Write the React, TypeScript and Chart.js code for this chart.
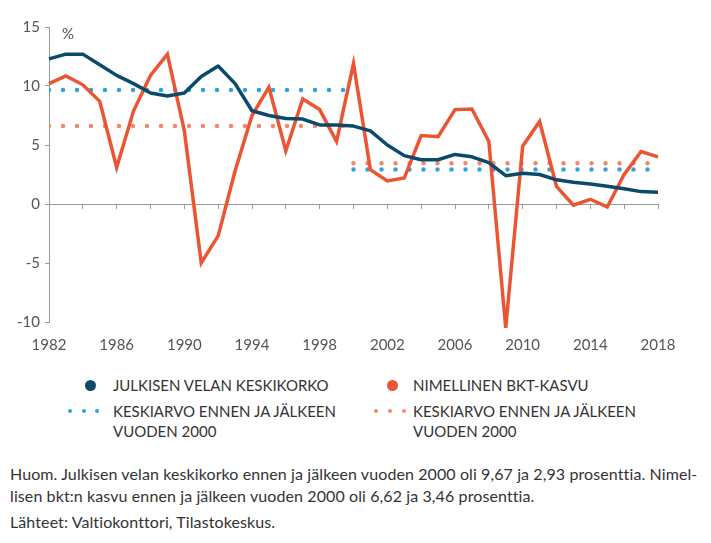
import React, { useEffect, useRef } from "react";
import { Chart, registerables } from "chart.js";

Chart.register(...registerables);

const years = [
  1982, 1983, 1984, 1985, 1986, 1987, 1988, 1989, 1990, 1991, 1992, 1993,
  1994, 1995, 1996, 1997, 1998, 1999, 2000, 2001, 2002, 2003, 2004, 2005,
  2006, 2007, 2008, 2009, 2010, 2011, 2012, 2013, 2014, 2015, 2016, 2017, 2018,
];

const keskikorko = [
  12.3, 12.7, 12.7, 11.8, 10.9, 10.2, 9.4, 9.15, 9.4, 10.8, 11.7, 10.2,
  7.9, 7.5, 7.25, 7.2, 6.7, 6.7, 6.6, 6.2, 5.0, 4.1, 3.75, 3.75,
  4.2, 4.0, 3.5, 2.4, 2.6, 2.5, 2.05, 1.85, 1.7, 1.5, 1.3, 1.05, 1.0,
];

const bktKasvu = [
  10.2, 10.85, 10.1, 8.7, 3.1, 7.9, 10.9, 12.7, 6.2, -5.0, -2.7, 2.8,
  7.5, 9.9, 4.5, 8.9, 8.0, 5.3, 11.9, 2.9, 1.95, 2.2, 5.8, 5.7,
  8.0, 8.05, 5.3, -10.5, 4.9, 7.0, 1.5, -0.1, 0.4, -0.25, 2.5, 4.45, 4.0,
];

// averages before / after year 2000
const periodBefore = [1982, 2000];
const periodAfter = [2000, 2018];
const korkoAverages = [9.67, 2.93];
const bktAverages = [6.62, 3.46];

const yTicks = [-10, -5, 0, 5, 10, 15];
const xLabelStep = 4;
const xTickStep = 2;

const legendLabels = [
  "JULKISEN VELAN KESKIKORKO",
  "NIMELLINEN BKT-KASVU",
  "KESKIARVO ENNEN JA JÄLKEEN",
  "VUODEN 2000",
];

const noteLines = [
  "Huom. Julkisen velan keskikorko ennen ja jälkeen vuoden 2000 oli 9,67 ja 2,93 prosenttia. Nimel-",
  "lisen bkt:n kasvu ennen ja jälkeen vuoden 2000 oli 6,62 ja 3,46 prosenttia.",
  "Lähteet: Valtiokonttori, Tilastokeskus.",
];

const DARK_BLUE = "#0c4a6c";
const ORANGE = "#ec5533";
const LIGHT_BLUE = "#2ea3dd";
const LIGHT_ORANGE = "#f2896a";
const AXIS = "#9a9a9a";
const TEXT = "#555555";

const FONT = "Lato";

function seg(period: number[], value: number) {
  return period.map((x) => ({ x, y: value }));
}

export default function App() {
  const ref = useRef<HTMLCanvasElement | null>(null);

  useEffect(() => {
    if (!ref.current) return;
    const dotted = (color: string) => ({
      borderColor: color,
      borderWidth: 4.5,
      borderDash: [0, 14],
      borderCapStyle: "round" as const,
      pointRadius: 0,
      fill: false,
    });
    const chart = new Chart(ref.current, {
      type: "line",
      data: {
        datasets: [
          {
            label: legendLabels[0],
            data: years.map((x, i) => ({ x, y: keskikorko[i] })),
            borderColor: DARK_BLUE,
            borderWidth: 3.5,
            pointRadius: 0,
            tension: 0,
            borderJoinStyle: "round",
            clip: 10,
          },
          {
            label: legendLabels[1],
            data: years.map((x, i) => ({ x, y: bktKasvu[i] })),
            borderColor: ORANGE,
            borderWidth: 3.5,
            pointRadius: 0,
            tension: 0,
            borderJoinStyle: "miter",
            clip: 10,
          },
          { label: "korko<2000", data: seg(periodBefore, korkoAverages[0]), ...dotted(LIGHT_BLUE) },
          { label: "korko>2000", data: seg(periodAfter, korkoAverages[1]), ...dotted(LIGHT_BLUE) },
          { label: "bkt<2000", data: seg(periodBefore, bktAverages[0]), ...dotted(LIGHT_ORANGE) },
          { label: "bkt>2000", data: seg(periodAfter, bktAverages[1]), ...dotted(LIGHT_ORANGE) },
        ] as any,
      },
      options: {
        animation: false,
        responsive: false,
        devicePixelRatio: 1,
        layout: { padding: { left: 0, right: 53, top: 27, bottom: 0 } },
        plugins: { legend: { display: false }, tooltip: { enabled: false } },
        scales: {
          x: {
            type: "linear",
            position: "bottom",
            min: years[0],
            max: years[years.length - 1],
            grid: { display: false },
            border: { display: false },
            ticks: {
              stepSize: xLabelStep,
              padding: 6,
              color: TEXT,
              font: { family: FONT, size: 15 },
              callback: (v: any) => String(v),
              maxRotation: 0,
            },
            afterFit: (s: any) => {
              s.height = 38;
            },
          },
          x0: {
            type: "linear",
            position: { y: 0 } as any,
            min: years[0],
            max: years[years.length - 1],
            grid: { drawOnChartArea: false, color: AXIS, tickLength: 4, lineWidth: 1 },
            border: { display: true, color: AXIS, width: 1 },
            ticks: { stepSize: xTickStep, display: false },
          },
          y: {
            type: "linear",
            min: yTicks[0],
            max: yTicks[yTicks.length - 1],
            afterBuildTicks: (s: any) => {
              s.ticks = yTicks.map((v) => ({ value: v }));
            },
            grid: { drawOnChartArea: false, color: AXIS, tickLength: 4 },
            border: { display: true, color: AXIS, width: 1 },
            ticks: {
              padding: 5,
              color: TEXT,
              font: { family: FONT, size: 15 },
            },
            afterFit: (s: any) => {
              s.width = 49;
            },
          },
        },
      },
    });
    return () => chart.destroy();
  }, []);

  const textStyle: React.CSSProperties = {
    position: "absolute",
    fontFamily: FONT,
    fontSize: 15,
    color: "#333",
    whiteSpace: "nowrap",
    lineHeight: "20px",
  };
  const dot = (x: number, y: number, d: number, c: string, k: string) => (
    <div
      key={k}
      style={{
        position: "absolute",
        left: x - d / 2,
        top: y - d / 2,
        width: d,
        height: d,
        borderRadius: "50%",
        background: c,
      }}
    />
  );

  return (
    <div
      style={{
        position: "absolute",
        left: 0,
        top: 0,
        width: 711,
        height: 543,
        background: "#fff",
        overflow: "hidden",
      }}
    >
      <canvas ref={ref} width={711} height={360} style={{ position: "absolute", left: 0, top: 0 }} />
      <div style={{ ...textStyle, left: 62, top: 23, fontSize: 15, color: TEXT }}>%</div>

      {dot(90, 385, 11, DARK_BLUE, "d1")}
      <div style={{ ...textStyle, left: 113, top: 375 }}>{legendLabels[0]}</div>
      {dot(392, 385, 11, ORANGE, "d2")}
      <div style={{ ...textStyle, left: 413, top: 375 }}>{legendLabels[1]}</div>

      {[70, 84, 97].map((x, i) => dot(x, 411, 4.5, LIGHT_BLUE, "b" + i))}
      <div style={{ ...textStyle, left: 113, top: 401 }}>
        {legendLabels[2]}
        <br />
        {legendLabels[3]}
      </div>
      {[376, 390, 404].map((x, i) => dot(x, 411, 4.5, LIGHT_ORANGE, "o" + i))}
      <div style={{ ...textStyle, left: 413, top: 401 }}>
        {legendLabels[2]}
        <br />
        {legendLabels[3]}
      </div>

      <div
        style={{
          ...textStyle,
          left: 10,
          top: 463,
          fontSize: 16,
          letterSpacing: "0.1px",
          lineHeight: "22px",
        }}
      >
        {noteLines[0]}
        <br />
        {noteLines[1]}
      </div>
      <div
        style={{
          ...textStyle,
          left: 10,
          top: 511,
          fontSize: 16,
          letterSpacing: "0.1px",
          lineHeight: "22px",
        }}
      >
        {noteLines[2]}
      </div>
    </div>
  );
}
